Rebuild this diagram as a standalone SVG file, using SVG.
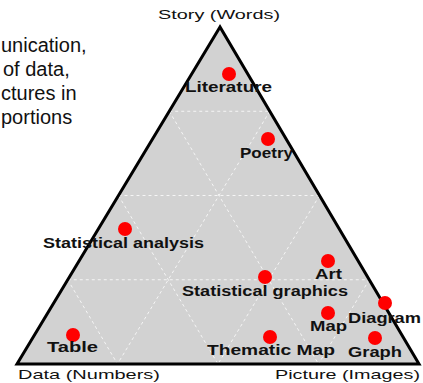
<svg xmlns="http://www.w3.org/2000/svg" width="423" height="383" viewBox="0 0 423 383">
<style>
.intro{font-family:"Liberation Sans",Arial,sans-serif;font-size:20px;fill:#111}
.axis{font-family:"Liberation Sans",Arial,sans-serif;font-size:13.5px;fill:#111}
.lbl{font-family:"Liberation Sans",Arial,sans-serif;font-size:14px;font-weight:bold;fill:#111}
.dot{fill:#f00}
.grid{stroke:#fff;stroke-width:1;stroke-dasharray:3 3;fill:none;opacity:0.8}
</style>
<rect width="423" height="383" fill="#fff"/>
<g id="intro-text">
<text class="intro" x="1" y="52">unication,</text>
<text class="intro" x="3" y="76">of data,</text>
<text class="intro" x="1" y="100">ctures in</text>
<text class="intro" x="1" y="124">portions</text>
</g>
<g id="triangle">
<polygon points="220,27 17,364 419,364" fill="#d2d2d2"/>
<g class="grid">
<line x1="169.25" y1="111.25" x2="269.75" y2="111.25"/>
<line x1="118.5" y1="195.5" x2="319.5" y2="195.5"/>
<line x1="67.75" y1="279.75" x2="369.25" y2="279.75"/>
<line x1="269.75" y1="111.25" x2="117.5" y2="364"/>
<line x1="319.5" y1="195.5" x2="218" y2="364"/>
<line x1="369.25" y1="279.75" x2="318.5" y2="364"/>
<line x1="169.25" y1="111.25" x2="318.5" y2="364"/>
<line x1="118.5" y1="195.5" x2="218" y2="364"/>
<line x1="67.75" y1="279.75" x2="117.5" y2="364"/>
</g>
<polygon points="220,27 17,364 419,364" fill="none" stroke="#000" stroke-width="3" stroke-linejoin="miter"/>
</g>
<g id="axis-labels">
<text class="axis" x="158" y="19" textLength="122" lengthAdjust="spacingAndGlyphs">Story (Words)</text>
<text class="axis" x="18" y="379" textLength="142" lengthAdjust="spacingAndGlyphs">Data (Numbers)</text>
<text class="axis" x="275" y="379" textLength="145" lengthAdjust="spacingAndGlyphs">Picture (Images)</text>
</g>
<g id="node-literature"><circle class="dot" cx="229" cy="74" r="7"/><text class="lbl" x="185" y="92" textLength="87" lengthAdjust="spacingAndGlyphs">Literature</text></g>
<g id="node-poetry"><circle class="dot" cx="268" cy="139" r="7"/><text class="lbl" x="240" y="158" textLength="53" lengthAdjust="spacingAndGlyphs">Poetry</text></g>
<g id="node-statistical-analysis"><circle class="dot" cx="125" cy="229" r="7"/><text class="lbl" x="43" y="248" textLength="161" lengthAdjust="spacingAndGlyphs">Statistical analysis</text></g>
<g id="node-art"><circle class="dot" cx="328" cy="261" r="7"/><text class="lbl" x="315" y="279" textLength="27" lengthAdjust="spacingAndGlyphs">Art</text></g>
<g id="node-statistical-graphics"><circle class="dot" cx="265" cy="277" r="7"/><text class="lbl" x="182" y="296" textLength="166" lengthAdjust="spacingAndGlyphs">Statistical graphics</text></g>
<g id="node-diagram"><circle class="dot" cx="385" cy="303" r="7"/><text class="lbl" x="348" y="323" textLength="73" lengthAdjust="spacingAndGlyphs">Diagram</text></g>
<g id="node-map"><circle class="dot" cx="328" cy="313" r="7"/><text class="lbl" x="310" y="331" textLength="37" lengthAdjust="spacingAndGlyphs">Map</text></g>
<g id="node-table"><circle class="dot" cx="73" cy="335" r="7"/><text class="lbl" x="47" y="352" textLength="51" lengthAdjust="spacingAndGlyphs">Table</text></g>
<g id="node-thematic-map"><circle class="dot" cx="270" cy="337" r="7"/><text class="lbl" x="207" y="355" textLength="128" lengthAdjust="spacingAndGlyphs">Thematic Map</text></g>
<g id="node-graph"><circle class="dot" cx="375" cy="338" r="7"/><text class="lbl" x="348" y="357" textLength="54" lengthAdjust="spacingAndGlyphs">Graph</text></g>
<g id="connectors"></g>
</svg>
